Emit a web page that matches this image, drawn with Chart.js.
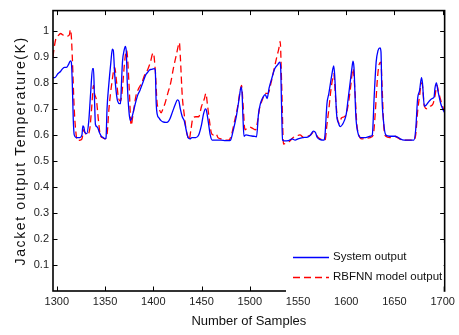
<!DOCTYPE html>
<html>
<head>
<meta charset="utf-8">
<script src="https://cdn.jsdelivr.net/npm/chart.js@4"></script>
<style>
  body { margin: 0; background: #fff; }
  #wrap { width: 459px; height: 335px; }
</style>
</head>
<body>
<div id="wrap"><canvas id="tempChart" width="459" height="335"></canvas></div>
<script>
// sample numbers / values
const sysSamples = [1296, 1298, 1301, 1304, 1306, 1308, 1310, 1312, 1314, 1315, 1316, 1317, 1318, 1320, 1324, 1326, 1327, 1328, 1329, 1331, 1333, 1335, 1337, 1338, 1339, 1340, 1342, 1344, 1346, 1348, 1350, 1351, 1352, 1354, 1356, 1357.5, 1358.5, 1360, 1362, 1363, 1365, 1366, 1367, 1368, 1370, 1371, 1372, 1373, 1375, 1376.5, 1378, 1380, 1382, 1384, 1386, 1388, 1390, 1392, 1394, 1396, 1398, 1401, 1402, 1403, 1404, 1406, 1408, 1410, 1413, 1415, 1417, 1420, 1423, 1425, 1426.5, 1428, 1430, 1432, 1434, 1436, 1438, 1440, 1444, 1447, 1450, 1452, 1454, 1455, 1457, 1459, 1461, 1465, 1470, 1475, 1478, 1480, 1483, 1486, 1489, 1491, 1492, 1493, 1494, 1496, 1500, 1504, 1507, 1509, 1511, 1513, 1516, 1518, 1520, 1523, 1526, 1529, 1531, 1532, 1533, 1534, 1536, 1540, 1544, 1547, 1550, 1555, 1560, 1563, 1566, 1568, 1570, 1573, 1577, 1578, 1580, 1582, 1585, 1587, 1588, 1590, 1592, 1594, 1596, 1598, 1600, 1602, 1604, 1606, 1607, 1608, 1610, 1612, 1615, 1620, 1625, 1627, 1629, 1631, 1633, 1635, 1636, 1637, 1639, 1641, 1645, 1650, 1654, 1656, 1660, 1665, 1670, 1672, 1674, 1676, 1678, 1679, 1681, 1683, 1686, 1689, 1691, 1692, 1693.5, 1695, 1698, 1700, 1702];
const sysValues = [0.82, 0.82, 0.835, 0.845, 0.855, 0.86, 0.86, 0.87, 0.885, 0.88, 0.80, 0.66, 0.60, 0.59, 0.59, 0.60, 0.635, 0.63, 0.61, 0.605, 0.65, 0.76, 0.855, 0.855, 0.74, 0.64, 0.63, 0.61, 0.595, 0.59, 0.585, 0.59, 0.70, 0.80, 0.88, 0.93, 0.925, 0.83, 0.75, 0.73, 0.72, 0.72, 0.80, 0.88, 0.93, 0.94, 0.92, 0.80, 0.68, 0.655, 0.67, 0.70, 0.73, 0.755, 0.77, 0.79, 0.81, 0.83, 0.84, 0.85, 0.852, 0.855, 0.85, 0.72, 0.68, 0.665, 0.655, 0.65, 0.648, 0.65, 0.66, 0.69, 0.72, 0.735, 0.73, 0.70, 0.67, 0.655, 0.62, 0.59, 0.585, 0.59, 0.59, 0.60, 0.64, 0.68, 0.70, 0.695, 0.65, 0.60, 0.58, 0.58, 0.58, 0.578, 0.578, 0.58, 0.62, 0.67, 0.74, 0.785, 0.76, 0.66, 0.595, 0.60, 0.597, 0.595, 0.593, 0.68, 0.72, 0.74, 0.755, 0.74, 0.78, 0.82, 0.855, 0.87, 0.88, 0.86, 0.70, 0.58, 0.577, 0.578, 0.585, 0.58, 0.585, 0.59, 0.592, 0.60, 0.615, 0.61, 0.59, 0.582, 0.58, 0.60, 0.72, 0.76, 0.83, 0.865, 0.83, 0.68, 0.645, 0.632, 0.64, 0.655, 0.68, 0.74, 0.80, 0.86, 0.884, 0.86, 0.67, 0.61, 0.59, 0.59, 0.595, 0.60, 0.75, 0.88, 0.925, 0.935, 0.92, 0.75, 0.64, 0.60, 0.595, 0.595, 0.59, 0.585, 0.58, 0.58, 0.58, 0.62, 0.74, 0.77, 0.82, 0.80, 0.71, 0.715, 0.73, 0.74, 0.745, 0.78, 0.80, 0.77, 0.72, 0.70, 0.685];

const rbfSamples = [1296, 1297, 1299, 1301, 1304, 1306, 1309, 1311, 1313, 1314, 1315, 1316, 1318, 1320, 1321, 1324, 1326, 1328, 1329, 1331, 1334, 1336, 1338, 1339, 1341, 1343, 1345, 1347, 1350, 1352, 1354, 1357, 1360, 1362, 1364, 1366, 1368, 1370, 1372, 1373, 1375, 1377, 1379, 1382, 1385, 1388, 1391, 1394, 1397, 1399, 1400, 1402, 1404, 1406, 1408, 1410, 1412, 1415, 1418, 1421, 1424, 1426, 1427, 1428, 1430, 1432, 1434, 1436, 1437, 1439, 1441, 1444, 1447, 1450, 1453, 1454.5, 1456, 1458, 1460, 1462, 1465, 1467, 1470, 1475, 1478, 1481, 1484, 1487, 1490, 1491.5, 1493, 1495, 1497, 1500, 1503, 1506, 1508, 1510, 1513, 1516, 1519, 1522, 1525, 1528, 1530, 1531.5, 1533, 1535, 1538, 1541, 1545, 1548, 1552, 1556, 1560, 1563, 1566, 1568, 1571, 1574, 1578, 1580, 1582, 1584, 1586, 1587, 1589, 1591, 1593, 1595, 1598, 1600, 1603, 1605, 1607, 1609, 1611, 1613, 1616, 1620, 1625, 1628, 1630, 1632, 1634, 1636, 1637, 1639, 1641, 1645, 1650, 1654, 1658, 1665, 1670, 1672, 1674, 1676, 1678, 1679, 1681, 1684, 1687, 1690, 1692, 1694, 1696, 1699, 1702];
const rbfValues = [0.90, 0.93, 0.97, 0.98, 0.99, 0.985, 0.98, 0.98, 0.985, 1.005, 0.98, 0.90, 0.70, 0.60, 0.578, 0.58, 0.585, 0.62, 0.61, 0.60, 0.62, 0.70, 0.79, 0.76, 0.735, 0.66, 0.60, 0.59, 0.585, 0.60, 0.70, 0.80, 0.86, 0.80, 0.74, 0.73, 0.78, 0.87, 0.925, 0.91, 0.78, 0.637, 0.68, 0.75, 0.78, 0.80, 0.83, 0.85, 0.88, 0.91, 0.915, 0.85, 0.72, 0.70, 0.685, 0.70, 0.72, 0.76, 0.80, 0.86, 0.91, 0.945, 0.955, 0.90, 0.75, 0.68, 0.62, 0.59, 0.58, 0.62, 0.665, 0.67, 0.67, 0.71, 0.74, 0.76, 0.72, 0.66, 0.61, 0.60, 0.605, 0.59, 0.585, 0.58, 0.58, 0.60, 0.65, 0.70, 0.77, 0.79, 0.72, 0.62, 0.625, 0.63, 0.625, 0.62, 0.65, 0.70, 0.735, 0.76, 0.76, 0.80, 0.85, 0.90, 0.93, 0.96, 0.80, 0.565, 0.57, 0.575, 0.59, 0.595, 0.60, 0.59, 0.595, 0.60, 0.61, 0.605, 0.59, 0.583, 0.58, 0.64, 0.70, 0.77, 0.82, 0.835, 0.74, 0.66, 0.645, 0.665, 0.67, 0.68, 0.74, 0.80, 0.855, 0.77, 0.64, 0.60, 0.585, 0.587, 0.59, 0.60, 0.68, 0.80, 0.87, 0.88, 0.80, 0.63, 0.595, 0.59, 0.595, 0.588, 0.58, 0.58, 0.58, 0.60, 0.69, 0.75, 0.80, 0.79, 0.71, 0.70, 0.71, 0.72, 0.75, 0.79, 0.76, 0.72, 0.69];

const xTicks = [1300, 1350, 1400, 1450, 1500, 1550, 1600, 1650, 1700];
const yTicks = [0.1, 0.2, 0.3, 0.4, 0.5, 0.6, 0.7, 0.8, 0.9, 1];
const seriesNames = ["System output", "RBFNN model output"];

const toPoints = (xs, ys) => xs.map((x, i) => ({ x: x, y: ys[i] }));

// wider letter spacing for the y title only (it is drawn in the y grid layer, before datasets)
const titleSpacing = {
  id: "titleSpacing",
  beforeDraw(chart) { chart.ctx.letterSpacing = "1.6px"; },
  beforeDatasetsDraw(chart) { chart.ctx.letterSpacing = "0px"; }
};

// matlab style box: frame, inward ticks, legend box in the lower right
const matlabBox = {
  id: "matlabBox",
  afterDatasetsDraw(chart) {
    const { ctx, chartArea: a, scales } = chart;
    const tl = 4.5;
    ctx.save();
    ctx.strokeStyle = "#000";
    ctx.lineWidth = 1;
    ctx.beginPath();
    xTicks.forEach(v => {
      const px = Math.round(scales.x.getPixelForValue(v)) + 0.5;
      ctx.moveTo(px, a.bottom); ctx.lineTo(px, a.bottom - tl);
      ctx.moveTo(px, a.top); ctx.lineTo(px, a.top + tl);
    });
    yTicks.forEach(v => {
      const py = Math.round(scales.y.getPixelForValue(v)) + 0.5;
      ctx.moveTo(a.left, py); ctx.lineTo(a.left + tl, py);
      ctx.moveTo(a.right, py); ctx.lineTo(a.right - tl, py);
    });
    ctx.stroke();
    ctx.lineWidth = 1.6;
    ctx.strokeRect(a.left, a.top, a.right - a.left, a.bottom - a.top);

    // legend
    const lx = 286, ly = 243;
    ctx.fillStyle = "#fff";
    ctx.fillRect(lx, ly, a.right - lx - 1, a.bottom - ly + 2);
    ctx.lineWidth = 1.3;
    ctx.strokeStyle = "#0000ff";
    ctx.beginPath(); ctx.moveTo(293, 257.5); ctx.lineTo(329, 257.5); ctx.stroke();
    ctx.strokeStyle = "#ff0000";
    ctx.setLineDash([7, 4]);
    ctx.beginPath(); ctx.moveTo(293, 277.5); ctx.lineTo(329, 277.5); ctx.stroke();
    ctx.setLineDash([]);
    ctx.fillStyle = "#111";
    ctx.font = "11.5px 'Liberation Sans', Arial, sans-serif";
    ctx.textBaseline = "middle";
    ctx.fillText(seriesNames[0], 333, 257);
    ctx.fillText(seriesNames[1], 333, 277);
    ctx.restore();
  }
};

window.onload = function () {
  const ctx = document.getElementById("tempChart").getContext("2d");
  new Chart(ctx, {
    type: "line",
    data: {
      datasets: [
        {
          label: seriesNames[0],
          data: toPoints(sysSamples, sysValues),
          borderColor: "#0000ff",
          borderWidth: 1.3,
          pointRadius: 0,
          cubicInterpolationMode: "monotone",
          fill: false
        },
        {
          label: seriesNames[1],
          data: toPoints(rbfSamples, rbfValues),
          borderColor: "#ff0000",
          borderWidth: 1.3,
          borderDash: [7, 4],
          pointRadius: 0,
          cubicInterpolationMode: "monotone",
          fill: false
        }
      ]
    },
    options: {
      responsive: false,
      animation: false,
      devicePixelRatio: 1,
      layout: { padding: { top: 6, right: 12, left: 0, bottom: 0 } },
      plugins: {
        legend: { display: false },
        tooltip: { enabled: false }
      },
      scales: {
        x: {
          type: "linear",
          min: 1296,
          max: 1702,
          afterBuildTicks: (scale) => { scale.ticks = xTicks.map(v => ({ value: v })); },
          afterFit: (scale) => { scale.height = 44; },
          grid: { display: false, drawTicks: false, z: 1 },
          border: { display: false },
          ticks: {
            z: 1,
            padding: 4,
            color: "#222",
            maxRotation: 0,
            font: { family: "'Liberation Sans', Arial, sans-serif", size: 11 },
            callback: (v) => String(v)
          },
          title: {
            display: true,
            text: "Number of Samples",
            color: "#111",
            padding: { top: 0, bottom: 6 },
            font: { family: "'Liberation Sans', Arial, sans-serif", size: 13 }
          }
        },
        y: {
          min: 0,
          max: 1.078,
          afterBuildTicks: (scale) => { scale.ticks = yTicks.map(v => ({ value: v })); },
          afterFit: (scale) => { scale.width = 53; },
          grid: { display: false, drawTicks: false },
          border: { display: false },
          ticks: {
            z: 1,
            padding: 4,
            color: "#222",
            font: { family: "'Liberation Sans', Arial, sans-serif", size: 11 },
            callback: (v) => String(Math.round(v * 10) / 10)
          },
          title: {
            display: true,
            text: "Jacket output Temperature(K)",
            color: "#111",
            padding: { top: 13, bottom: 0 },
            font: { family: "'Liberation Sans', Arial, sans-serif", size: 14 }
          }
        }
      }
    },
    plugins: [titleSpacing, matlabBox]
  });
};
</script>
</body>
</html>
